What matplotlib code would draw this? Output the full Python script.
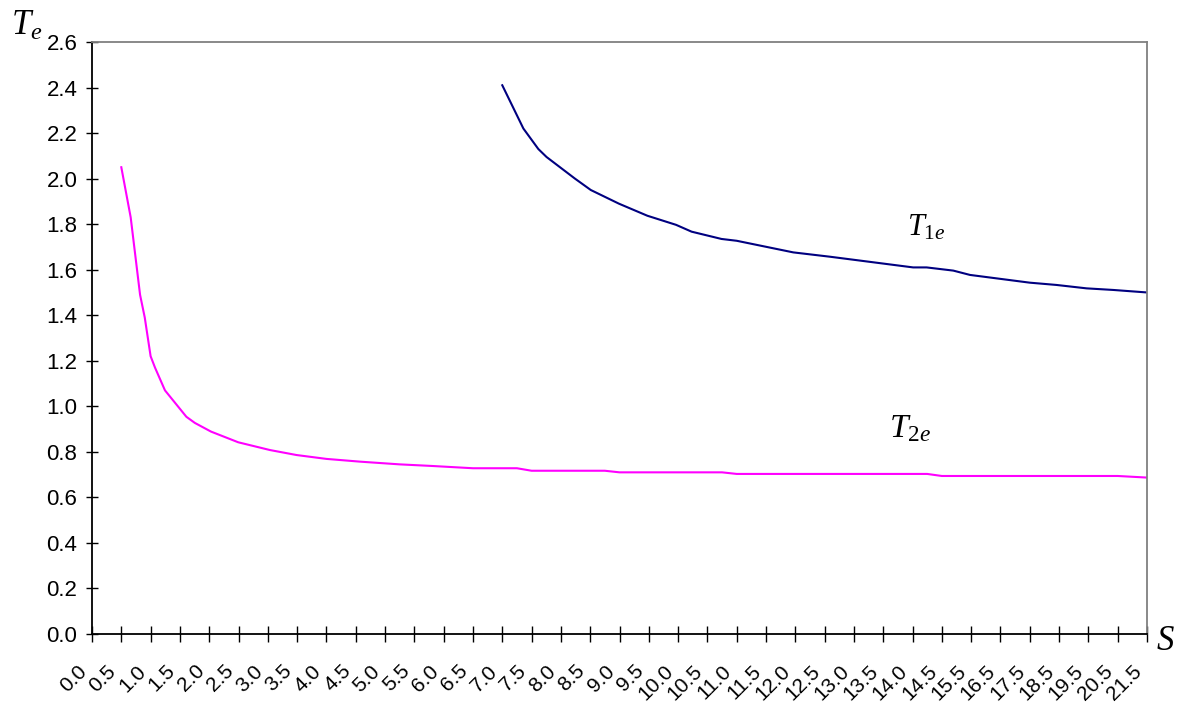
import matplotlib.pyplot as plt
import matplotlib.transforms as mtransforms

plt.rcParams['font.family'] = 'Liberation Sans'
plt.rcParams['mathtext.fontset'] = 'custom'
plt.rcParams['mathtext.rm'] = 'Liberation Serif'
plt.rcParams['mathtext.it'] = 'Liberation Serif:italic'

# category labels of the S axis (one per tick)
s_labels = ['0.0', '0.5', '1.0', '1.5', '2.0', '2.5', '3.0', '3.5', '4.0', '4.5',
            '5.0', '5.5', '6.0', '6.5', '7.0', '7.5', '8.0', '8.5', '9.0', '9.5',
            '10.0', '10.5', '11.0', '11.5', '12.0', '12.5', '13.0', '13.5', '14.0',
            '14.5', '15.5', '16.5', '17.5', '18.5', '19.5', '20.5', '21.5']
y_ticks = [0.0, 0.2, 0.4, 0.6, 0.8, 1.0, 1.2, 1.4, 1.6, 1.8, 2.0, 2.2, 2.4, 2.6]

# T1e curve, position in category units
t1_idx = [14.0, 14.72, 15.23, 15.51, 16.48, 17.02, 17.98, 18.95, 19.93, 20.46,
          21.48, 22.0, 23.93, 25.18, 28.02, 28.48, 29.39, 29.96, 32.0, 32.91,
          33.94, 34.85, 36.0]
t1_val = [2.41, 2.22, 2.13, 2.095, 2.0, 1.95, 1.89, 1.837, 1.797, 1.767,
          1.735, 1.727, 1.676, 1.657, 1.61, 1.61, 1.596, 1.577, 1.543, 1.533,
          1.518, 1.511, 1.50]

# T2e curve
t2_idx = [1.0, 1.32, 1.64, 1.80, 2.0, 2.15, 2.49, 3.22, 3.51, 4.06, 4.99, 6.07,
          6.98, 8.0, 9.14, 10.5, 11.6, 13.0, 14.5, 15.0, 17.5, 18.0, 21.5, 22.0,
          28.5, 29.0, 35.0, 36.0]
t2_val = [2.05, 1.83, 1.49, 1.39, 1.22, 1.17, 1.07, 0.954, 0.927, 0.889, 0.842,
          0.808, 0.786, 0.769, 0.757, 0.745, 0.738, 0.728, 0.728, 0.717, 0.717,
          0.71, 0.71, 0.703, 0.703, 0.694, 0.694, 0.687]

fig = plt.figure(figsize=(11.88, 7.04), dpi=100)
ax = fig.add_axes([92/1188, 1-634/704, (1147-92)/1188, (634-42)/704])

ax.plot(t2_idx, t2_val, color='#FF00FF', lw=1.5)
ax.plot(t1_idx, t1_val, color='#000080', lw=1.5)

ax.set_xlim(0, len(s_labels) - 1)
ax.set_ylim(0, 2.6)
ax.set_yticks(y_ticks, [f'{v:.1f}' for v in y_ticks], fontsize=16)
ax.set_xticks(range(len(s_labels)), s_labels, fontsize=15, rotation=45,
              ha='right', va='center', rotation_mode='anchor')
ax.tick_params(axis='y', direction='inout', length=9, width=1, pad=6)
ax.tick_params(axis='x', direction='inout', length=11, width=1, pad=19)
shift = mtransforms.ScaledTranslation(-8/100, 0, fig.dpi_scale_trans)
for lab in ax.get_xticklabels():
    lab.set_transform(lab.get_transform() + shift)

for side in ['left', 'bottom']:
    ax.spines[side].set_color('black')
    ax.spines[side].set_linewidth(1.3)
for side in ['top', 'right']:
    ax.spines[side].set_color('#808080')
    ax.spines[side].set_linewidth(1.3)

ax.text(27.8, 1.752, r'$T_{1e}$', fontsize=22, va='baseline')
ax.text(27.2, 0.865, r'$T_{2e}$', fontsize=24, va='baseline')
fig.text(11/1188, 1-35/704, r'$T_e$', fontsize=25, va='baseline')
fig.text(1156/1188, 1-650/704, r'$S$', fontsize=25, va='baseline')

fig.savefig('out.png', dpi=100)
